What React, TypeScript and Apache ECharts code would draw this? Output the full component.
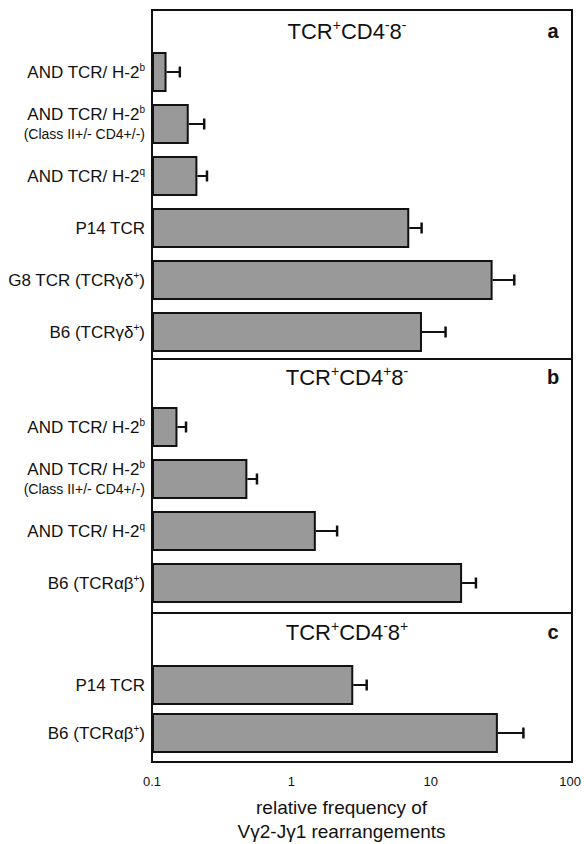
import React, { useEffect, useRef } from "react";
import * as echarts from "echarts";

// ---- Data ----
const panelACategories = [
  "AND TCR/ H-2^{b}",
  "AND TCR/ H-2^{b}|(Class II+/- CD4+/-)",
  "AND TCR/ H-2^{q}",
  "P14 TCR",
  "G8 TCR (TCRγδ^{+})",
  "B6 (TCRγδ^{+})",
];
const panelAValues = [0.127, 0.183, 0.211, 6.88, 27.1, 8.48];
const panelAErrors = [0.158, 0.236, 0.247, 8.43, 38.7, 12.5];

const panelBCategories = [
  "AND TCR/ H-2^{b}",
  "AND TCR/ H-2^{b}|(Class II+/- CD4+/-)",
  "AND TCR/ H-2^{q}",
  "B6 (TCRαβ^{+})",
];
const panelBValues = [0.152, 0.48, 1.48, 16.4];
const panelBErrors = [0.175, 0.562, 2.1, 20.6];

const panelCCategories = ["P14 TCR", "B6 (TCRαβ^{+})"];
const panelCValues = [2.78, 30.3];
const panelCErrors = [3.47, 46.2];

const panelTitles = [
  ["TCR", "+", "CD4", "-", "8", "-"],
  ["TCR", "+", "CD4", "+", "8", "-"],
  ["TCR", "+", "CD4", "-", "8", "+"],
];
const panelLetters = ["a", "b", "c"];
const xTickLabels = ["0.1", "1", "10", "100"];
const xAxisName = "relative frequency of\nVγ2-Jγ1 rearrangements";

// ---- helpers ----
const FONT = "'Liberation Sans', Arial, Helvetica, sans-serif";
const INK = "#111111";

function richLine(line: string): string {
  const parts = line.split(/\^\{([^}]*)\}/);
  let out = "";
  parts.forEach((p, i) => {
    if (!p) return;
    out += i % 2 === 1 ? `{sup|${p}}` : `{m|${p}}`;
  });
  return out;
}

function formatLabel(v: string): string {
  const lines = v.split("|");
  const first = richLine(lines[0]);
  if (lines.length > 1) return first + "\n" + `{s|${lines[1]}}`;
  return first;
}

function titleText(parts: string[]): string {
  return parts.map((p, i) => (i % 2 === 1 ? `{sup|${p}}` : `{m|${p}}`)).join("");
}

const labelRich = {
  m: { fontSize: 17, lineHeight: 20, fontFamily: FONT, color: INK },
  sup: { fontSize: 10, lineHeight: 15, verticalAlign: "top", fontFamily: FONT, color: INK },
  s: { fontSize: 14, lineHeight: 20, fontFamily: FONT, color: INK },
};

const titleRich = {
  m: { fontSize: 22, lineHeight: 26, fontFamily: FONT, fill: INK },
  sup: { fontSize: 14, lineHeight: 20, verticalAlign: "top", fontFamily: FONT, fill: INK },
};

export default function App() {
  const ref = useRef<HTMLDivElement>(null);

  useEffect(() => {
    if (!ref.current) return;
    const chart = echarts.init(ref.current, undefined, { renderer: "svg" });

    const panels = [
      { cats: panelACategories, vals: panelAValues, errs: panelAErrors, top: 46, height: 312 },
      { cats: panelBCategories, vals: panelBValues, errs: panelBErrors, top: 401, height: 208 },
      { cats: panelCCategories, vals: panelCValues, errs: panelCErrors, top: 661, height: 97 },
    ];
    const frames = [
      { y: 10, h: 349 },
      { y: 359, h: 254 },
      { y: 613, h: 149 },
    ];
    const titleY = [31, 377, 632];

    const plotLeft = 152;
    const plotRight = 572;

    const grids = panels.map((p) => ({
      left: plotLeft,
      right: 584 - plotRight,
      top: p.top,
      height: p.height,
      containLabel: false,
    }));

    const xAxes = panels.map((p, i) => {
      const last = i === panels.length - 1;
      return {
        type: "log",
        logBase: 10,
        min: 0.1,
        max: 100,
        startValue: 0.1,
        gridIndex: i,
        axisLine: { show: false },
        axisTick: { show: false },
        splitLine: { show: false },
        axisLabel: {
          show: last,
          margin: 18,
          fontSize: 13,
          fontFamily: FONT,
          color: INK,
          formatter: (v: number) => {
            const idx = Math.round(Math.log10(v)) + 1;
            return xTickLabels[idx] ?? String(v);
          },
        },
        name: last ? xAxisName : "",
        nameLocation: "middle",
        nameGap: 38,
        nameTextStyle: {
          fontSize: 19,
          lineHeight: 24,
          fontFamily: FONT,
          color: INK,
          padding: [0, 39, 0, 0],
        },
      };
    });

    const yAxes = panels.map((p, i) => ({
      type: "category",
      gridIndex: i,
      data: p.cats,
      inverse: true,
      axisLine: { show: false },
      axisTick: { show: false },
      splitLine: { show: false },
      axisLabel: {
        margin: 7,
        formatter: (v: string) => formatLabel(v),
        rich: labelRich,
      },
    }));

    const barSeries = panels.map((p, i) => ({
      type: "bar",
      xAxisIndex: i,
      yAxisIndex: i,
      data: p.vals,
      barWidth: 40,
      itemStyle: { color: "#999999", borderColor: INK, borderWidth: 2 },
      silent: true,
    }));

    const errSeries = panels.map((p, i) => ({
      type: "custom",
      xAxisIndex: i,
      yAxisIndex: i,
      data: p.vals.map((v, k) => [v, p.errs[k], k]),
      encode: { x: [0, 1], y: 2 },
      z: 3,
      silent: true,
      renderItem: (params: any, api: any) => {
        const y = api.value(2);
        const s = api.coord([api.value(0), y]);
        const e = api.coord([api.value(1), y]);
        const h = 11;
        return {
          type: "group",
          children: [
            {
              type: "line",
              shape: { x1: s[0], y1: s[1], x2: e[0], y2: e[1] },
              style: { stroke: INK, lineWidth: 2 },
            },
            {
              type: "line",
              shape: { x1: e[0], y1: e[1] - h / 2, x2: e[0], y2: e[1] + h / 2 },
              style: { stroke: INK, lineWidth: 2.5 },
            },
          ],
        };
      },
    }));

    const graphics: any[] = [];
    frames.forEach((f) => {
      graphics.push({
        type: "rect",
        shape: { x: plotLeft, y: f.y, width: plotRight - plotLeft, height: f.h },
        style: { fill: "none", stroke: INK, lineWidth: 2 },
        z: 10,
        silent: true,
      });
    });
    panelTitles.forEach((t, i) => {
      graphics.push({
        type: "text",
        x: 347,
        y: titleY[i],
        style: {
          text: titleText(t),
          rich: titleRich,
          align: "center",
          verticalAlign: "middle",
          fill: INK,
          font: `22px ${FONT}`,
        },
        z: 10,
      });
      graphics.push({
        type: "text",
        x: 553,
        y: titleY[i],
        style: {
          text: panelLetters[i],
          align: "center",
          verticalAlign: "middle",
          fill: INK,
          font: `bold 20px ${FONT}`,
        },
        z: 10,
      });
    });

    chart.setOption({
      animation: false,
      backgroundColor: "#ffffff",
      grid: grids,
      xAxis: xAxes,
      yAxis: yAxes,
      series: [...barSeries, ...errSeries],
      graphic: graphics,
    });

    return () => chart.dispose();
  }, []);

  return (
    <div
      ref={ref}
      style={{ position: "absolute", left: 0, top: 0, width: 584, height: 844, background: "#fff" }}
    />
  );
}
